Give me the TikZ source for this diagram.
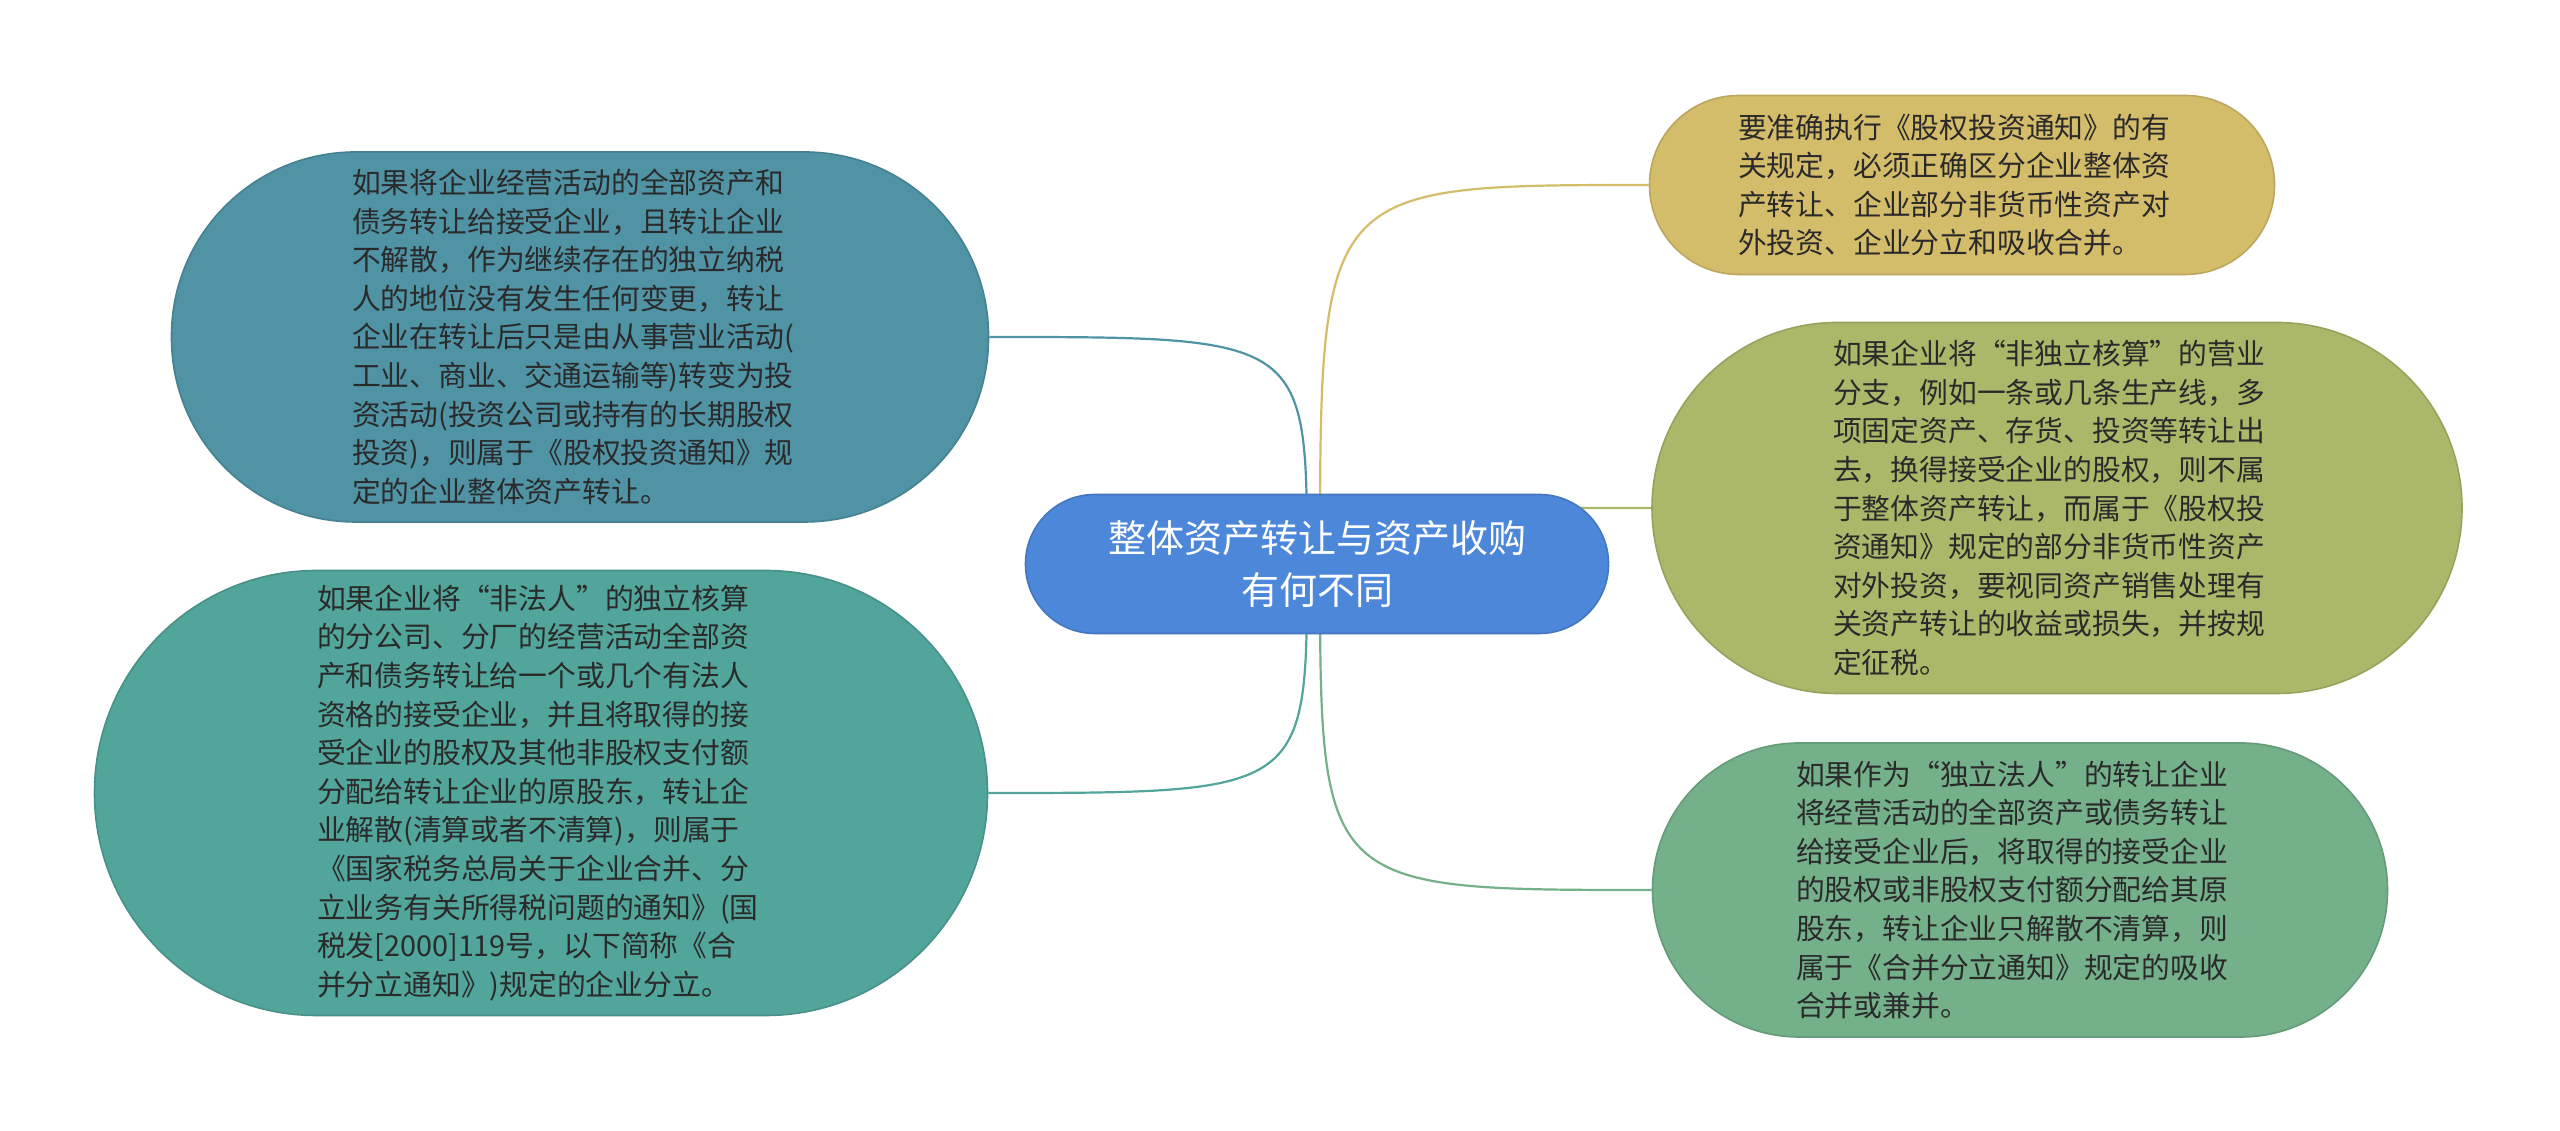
\documentclass[tikz,border=0pt]{standalone}
\usepackage{fontspec}
\setmainfont{Noto Sans CJK SC}
\usetikzlibrary{backgrounds,calc}
\definecolor{cLT}{HTML}{4F93A4}
\definecolor{cLB}{HTML}{52A59A}
\definecolor{cC}{HTML}{4D87D9}
\definecolor{cRT}{HTML}{D4BD6A}
\definecolor{cRM}{HTML}{ABB86A}
\definecolor{cRB}{HTML}{74B089}
\definecolor{txt}{HTML}{2A2A2A}
\tikzset{
  bubble/.style={draw=#1!88!black, fill=#1, line width=0.4pt, text=txt,
    font=\fontsize{7.2pt}{9.65pt}\selectfont, align=left, text width=112pt, inner sep=0pt},
  link/.style={draw=#1, line width=0.55pt},
}
\begin{document}
\begin{tikzpicture}[x=0.25pt,y=-0.25pt]
\useasboundingbox (0,0) rectangle (2560,1131);

\node[draw=cC!88!black, fill=cC, line width=0.4pt, text=white, align=center,
  font=\fontsize{9.5pt}{13pt}\selectfont, inner sep=0pt,
  minimum width=145.75pt, minimum height=34.75pt, rounded corners=17.3pt] (c) at (1317,564)
  {整体资产转让与资产收购\\有何不同};

\node[bubble=cLT, text width=114pt, minimum width=204.25pt, minimum height=92.5pt, rounded corners=46pt] (lt) at (580,337)
{如果将企业经营活动的全部资产和\\债务转让给接受企业，且转让企业\\不解散，作为继续存在的独立纳税\\人的地位没有发生任何变更，转让\\企业在转让后只是由从事营业活动(\\工业、商业、交通运输等)转变为投\\资活动(投资公司或持有的长期股权\\投资)，则属于《股权投资通知》规\\定的企业整体资产转让。};

\node[bubble=cLB, minimum width=223.25pt, minimum height=111.25pt, rounded corners=55.5pt] (lb) at (541,793)
{如果企业将“非法人”的独立核算\\的分公司、分厂的经营活动全部资\\产和债务转让给一个或几个有法人\\资格的接受企业，并且将取得的接\\受企业的股权及其他非股权支付额\\分配给转让企业的原股东，转让企\\业解散(清算或者不清算)，则属于\\《国家税务总局关于企业合并、分\\立业务有关所得税问题的通知》(国\\税发[2000]119号，以下简称《合\\并分立通知》)规定的企业分立。};

\node[bubble=cRT, minimum width=156.25pt, minimum height=44.75pt, rounded corners=22.3pt] (rt) at (1962,185)
{要准确执行《股权投资通知》的有\\关规定，必须正确区分企业整体资\\产转让、企业部分非货币性资产对\\外投资、企业分立和吸收合并。};

\node[bubble=cRM, minimum width=202.5pt, minimum height=92.75pt, rounded corners=46.3pt] (rm) at (2057,508)
{如果企业将“非独立核算”的营业\\分支，例如一条或几条生产线，多\\项固定资产、存货、投资等转让出\\去，换得接受企业的股权，则不属\\于整体资产转让，而属于《股权投\\资通知》规定的部分非货币性资产\\对外投资，要视同资产销售处理有\\关资产转让的收益或损失，并按规\\定征税。};

\node[bubble=cRB, minimum width=183.75pt, minimum height=73.5pt, rounded corners=36.7pt] (rb) at (2020,890)
{如果作为“独立法人”的转让企业\\将经营活动的全部资产或债务转让\\给接受企业后，将取得的接受企业\\的股权或非股权支付额分配给其原\\股东，转让企业只解散不清算，则\\属于《合并分立通知》规定的吸收\\合并或兼并。};

\coordinate (cl) at ($(c.center)+(-10,0)$);
\coordinate (cr) at ($(c.center)+(3,0)$);
\begin{scope}[on background layer]
\fill[white] (0,0) rectangle (2560,1131);
\draw[link=cLT] (cl) .. controls (cl |- lt.east) .. (lt.east);
\draw[link=cLB] (cl) .. controls (cl |- lb.east) .. (lb.east);
\draw[link=cRT] (cr) .. controls (cr |- rt.west) .. (rt.west);
\draw[link=cRM] (cr) .. controls (cr |- rm.west) .. (rm.west);
\draw[link=cRB] (cr) .. controls (cr |- rb.west) .. (rb.west);
\end{scope}
\end{tikzpicture}
\end{document}
